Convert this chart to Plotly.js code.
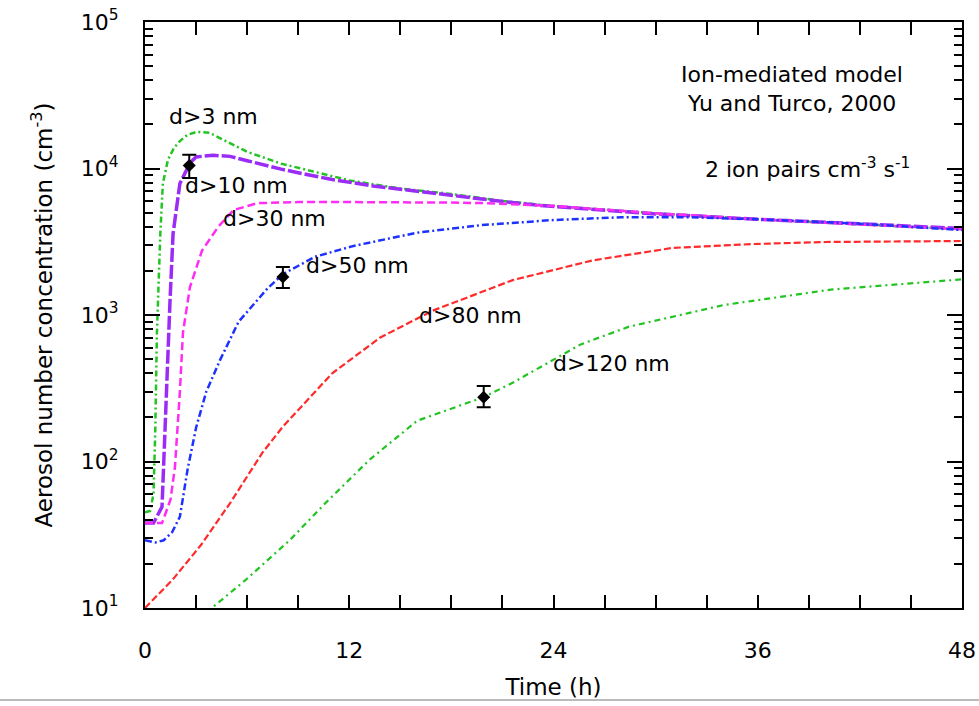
<!DOCTYPE html>
<html><head><meta charset="utf-8">
<script src="https://cdn.plot.ly/plotly-3.0.1.min.js"></script>
<style>html,body{margin:0;padding:0;background:#fff}#c{width:979px;height:706px}</style>
</head><body><div id="c"></div>
<script>
// d>3 nm
const t3  = [0, 0.3, 0.5, 0.6, 0.7, 0.8, 0.9, 1.05, 1.35, 1.7, 2.05, 2.5, 3.05, 3.8, 5, 6, 8, 10, 12, 15, 18, 21, 24, 30, 36, 42, 48];
const y3  = [45, 46, 60, 155, 750, 2000, 3600, 7900, 11500, 13800, 15400, 17000, 17800, 17500, 14900, 13000, 10800, 9500, 8300, 7300, 6700, 6000, 5550, 4950, 4500, 4150, 3850];
// d>10 nm
const t10 = [0, 0.5, 1.0, 1.15, 1.3, 1.47, 1.65, 2.05, 2.64, 3, 4, 5, 6, 8, 9.5, 11, 13.4, 15, 17.3, 19, 21.3, 23.2, 27, 30, 36, 42, 48];
const y10 = [38, 38, 49, 150, 350, 1250, 3600, 7900, 10900, 12000, 12300, 12100, 11300, 9900, 9100, 8400, 7600, 7200, 6700, 6300, 5900, 5600, 5200, 4900, 4500, 4200, 3900];
// d>30 nm
const t30 = [0, 1.0, 1.5, 1.76, 2.05, 2.23, 2.64, 3.35, 4.3, 5.2, 6.6, 9, 12, 15, 18, 20, 24, 30, 36, 42, 48];
const y30 = [38, 38, 55, 92, 300, 760, 1550, 2750, 4000, 5200, 5800, 5900, 5900, 5900, 5850, 5800, 5550, 4950, 4500, 4150, 3850];
// d>50 nm
const t50 = [0, 0.6, 1.1, 1.6, 2.05, 2.5, 3.0, 3.6, 4.4, 5.5, 7.2, 8.1, 10, 12.2, 16, 19.7, 24, 28, 32, 36, 42, 48];
const y50 = [29, 28, 29, 33, 42, 88, 170, 300, 490, 900, 1520, 1900, 2500, 2950, 3650, 4100, 4450, 4650, 4650, 4500, 4200, 3800];
// d>80 nm
const t80 = [0, 1.6, 3.3, 5, 6.9, 8.1, 11, 13.8, 16.9, 21.6, 26.3, 31, 35.7, 40, 48];
const y80 = [10, 15.5, 27, 52, 115, 173, 400, 700, 1070, 1730, 2360, 2870, 3050, 3150, 3200];
// d>120 nm
const t120 = [3.6, 5.9, 8.5, 10.6, 13.2, 16, 19.9, 21.6, 25.6, 28.4, 34, 40.3, 48];
const y120 = [9.3, 15.5, 29, 52, 103, 190, 275, 345, 630, 830, 1170, 1490, 1750];
// measurements
const obsT = [2.6, 8.1, 19.9];
const obsY = [10500, 1820, 275];
const obsErrPlus = [1900, 310, 52];
const obsErrMinus = [1900, 290, 40];

const xMajor = [0, 12, 24, 36, 48];
const yMajor = [10, 100, 1000, 10000, 100000];
const yMajorText = ['10<sup>1</sup>', '10<sup>2</sup>', '10<sup>3</sup>', '10<sup>4</sup>', '10<sup>5</sup>'];
const yMinor = [];
for (const d of [10, 100, 1000, 10000]) for (let k = 2; k <= 9; k++) yMinor.push(k * d);

const labels = ['d>3 nm', 'd>10 nm', 'd>30 nm', 'd>50 nm', 'd>80 nm', 'd>120 nm'];

const F = 'DejaVu Sans, Arial, sans-serif';
const green = '#22c322', purple = '#9a2cf5', magenta = '#ff2cf5', blue = '#1e32ff', red = '#ff2a2a';

const traces = [
  {x: t3, y: y3, mode: 'lines', line: {color: green, width: 2.5, dash: '6px,3px,2px,3px'}, name: labels[0]},
  {x: t10, y: y10, mode: 'lines', line: {color: purple, width: 3.5, dash: '14px,3px'}, name: labels[1]},
  {x: t30, y: y30, mode: 'lines', line: {color: magenta, width: 2.5, dash: '8px,4px'}, name: labels[2]},
  {x: t50, y: y50, mode: 'lines', line: {color: blue, width: 2.5, dash: '7px,3px,2px,3px'}, name: labels[3]},
  {x: t80, y: y80, mode: 'lines', line: {color: red, width: 2.2, dash: '7px,3px'}, name: labels[4]},
  {x: t120, y: y120, mode: 'lines', line: {color: green, width: 2.2, dash: '6px,4px,2px,4px'}, name: labels[5]},
  {x: obsT, y: obsY, mode: 'markers', marker: {color: '#000', size: 10, symbol: 'diamond'},
   error_y: {type: 'data', symmetric: false, array: obsErrPlus, arrayminus: obsErrMinus, color: '#000', thickness: 2, width: 7}},
  {x: [0], y: [100], yaxis: 'y2', mode: 'markers', marker: {opacity: 0}, hoverinfo: 'skip'}
];

const tf = {family: F, size: 22, color: '#000'};
const ann = [
  {x: 4.0, y: 4.358, text: labels[0]},
  {x: 5.4, y: 3.887, text: labels[1]},
  {x: 7.6, y: 3.662, text: labels[2]},
  {x: 12.5, y: 3.341, text: labels[3]},
  {x: 19.1, y: 3.0, text: labels[4]},
  {x: 27.4, y: 2.672, text: labels[5]},
  {x: 38.0, y: 4.645, text: 'Ion-mediated model'},
  {x: 38.0, y: 4.447, text: 'Yu and Turco, 2000'},
  {x: 38.95, y: 4.003, text: '2 ion pairs cm<sup>-3</sup> s<sup>-1</sup>'}
].map(a => Object.assign({xref: 'x', yref: 'y', showarrow: false, font: {family: F, size: 22, color: '#000'}}, a));

const layout = {
  width: 979, height: 706,
  margin: {l: 145, r: 17, t: 22, b: 98},
  paper_bgcolor: '#fff', plot_bgcolor: '#fff',
  showlegend: false,
  font: {family: F, color: '#000'},
  xaxis: {
    range: [0, 48], tickvals: xMajor, ticktext: xMajor.map(String),
    ticks: 'inside', ticklen: 13, tickwidth: 2, tickcolor: '#000',
    minor: {dtick: 3, tick0: 0, ticks: 'inside', ticklen: 7, tickwidth: 2, tickcolor: '#000'},
    showline: true, linewidth: 2, linecolor: '#000', mirror: 'allticks',
    showgrid: false, zeroline: false, tickfont: tf, ticklabelstandoff: 22,
    title: {text: 'Time (h)', font: {family: F, size: 23, color: '#000'}, standoff: 16}
  },
  yaxis: {
    type: 'log', range: [1, 5], tickvals: yMajor, ticktext: yMajorText,
    ticks: 'inside', ticklen: 15, tickwidth: 2, tickcolor: '#000',
    showline: true, linewidth: 2, linecolor: '#000', mirror: 'allticks',
    showgrid: false, zeroline: false, tickfont: tf, ticklabelstandoff: 20,
    title: {text: 'Aerosol number concentration (cm<sup>-3</sup>)', font: {family: F, size: 23, color: '#000'}, standoff: 22}
  },
  yaxis2: {
    type: 'log', range: [1, 5], overlaying: 'y', side: 'left', tickvals: yMinor,
    showticklabels: false, ticks: 'inside', ticklen: 8, tickwidth: 2, tickcolor: '#000',
    mirror: 'ticks', showline: false, showgrid: false, zeroline: false
  },
  annotations: ann,
  shapes: [{type: 'line', xref: 'paper', yref: 'paper', x0: -0.18, x1: 1.03, y0: -0.157, y1: -0.157, line: {color: '#bbb', width: 2}}]
};

Plotly.newPlot('c', traces, layout, {displayModeBar: false, staticPlot: true});
</script>
</body></html>
